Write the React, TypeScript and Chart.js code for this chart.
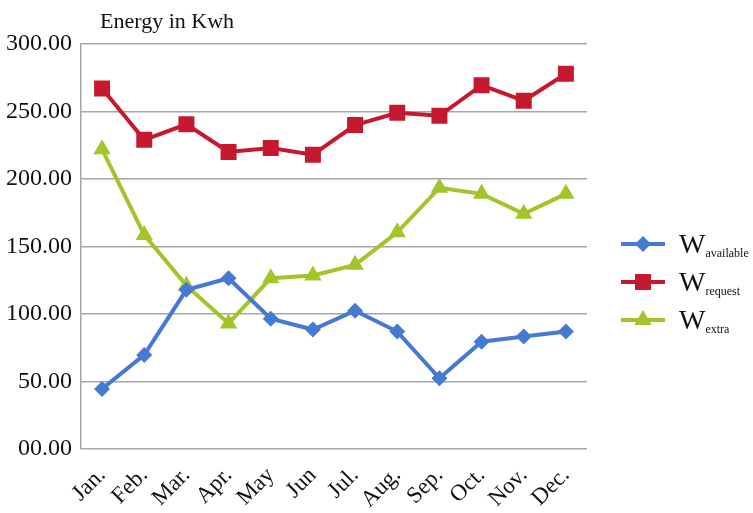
import React, { useEffect, useRef } from "react";
import { Chart, registerables } from "chart.js";

Chart.register(...registerables);

const months = ["Jan.", "Feb.", "Mar.", "Apr.", "May", "Jun", "Jul.", "Aug.", "Sep.", "Oct.", "Nov.", "Dec."];
const available = [44.5, 69.7, 117.9, 126.5, 96.5, 88.5, 102.5, 87, 52.4, 79.5, 83.3, 87];
const request = [267, 229, 240.5, 220, 223, 218, 240, 249, 246.8, 269.5, 258, 278];
const extra = [222, 158.6, 121, 93, 126.5, 128.5, 136.4, 160.5, 193.5, 189, 174.2, 189];
const legendSubs = ["available", "request", "extra"];
const titleText = "Energy in Kwh";

const BLUE = "#4679D2";
const RED = "#C6182F";
const GREEN = "#A3C529";
const GRID = "#A6A6A6";
const FONT = "'Liberation Serif', 'Times New Roman', serif";

function drawMarker(ctx: CanvasRenderingContext2D, style: string, x: number, y: number, color: string) {
  ctx.save();
  ctx.fillStyle = color;
  ctx.beginPath();
  if (style === "rectRot") {
    const r = 8;
    ctx.moveTo(x, y - r);
    ctx.lineTo(x + r, y);
    ctx.lineTo(x, y + r);
    ctx.lineTo(x - r, y);
  } else if (style === "rect") {
    const s = 8;
    ctx.rect(x - s, y - s, 2 * s, 2 * s);
  } else {
    const r = 10;
    ctx.moveTo(x, y - r);
    ctx.lineTo(x + r * 0.866, y + r * 0.5);
    ctx.lineTo(x - r * 0.866, y + r * 0.5);
  }
  ctx.closePath();
  ctx.fill();
  ctx.restore();
}

const decorPlugin = {
  id: "decor",
  afterDraw(chart: any) {
    const ctx: CanvasRenderingContext2D = chart.ctx;
    const area = chart.chartArea;
    ctx.save();
    // title
    ctx.fillStyle = "#111";
    ctx.font = `22px ${FONT}`;
    ctx.textAlign = "left";
    ctx.textBaseline = "alphabetic";
    ctx.fillText(titleText, area.left + 19, 28);
    // legend
    const styles = ["rectRot", "rect", "triangle"];
    const rows = [244, 282, 320];
    chart.data.datasets.forEach((ds: any, i: number) => {
      const y = rows[i];
      ctx.strokeStyle = ds.borderColor;
      ctx.lineWidth = 4;
      ctx.beginPath();
      ctx.moveTo(621, y);
      ctx.lineTo(665, y);
      ctx.stroke();
      drawMarker(ctx, styles[i], 643, y, ds.borderColor);
      ctx.fillStyle = "#111";
      ctx.font = `28px ${FONT}`;
      ctx.fillText("W", 679, y + 9);
      const wW = ctx.measureText("W").width;
      ctx.font = `12px ${FONT}`;
      ctx.fillText(legendSubs[i], 679 + wW, y + 13);
    });
    ctx.restore();
  },
};

export default function App() {
  const ref = useRef<HTMLCanvasElement | null>(null);
  useEffect(() => {
    if (!ref.current) return;
    const mk = (label: string, data: number[], color: string, style: string, r: number) => ({
      label,
      data,
      borderColor: color,
      backgroundColor: color,
      borderWidth: 4,
      pointStyle: style,
      pointRadius: r,
      pointHoverRadius: r,
      pointBorderWidth: 0,
      tension: 0,
    });
    const chart = new Chart(ref.current, {
      type: "line",
      data: {
        labels: months,
        datasets: [
          mk("W available", available, BLUE, "rectRot", 8),
          mk("W request", request, RED, "rect", 11.3),
          mk("W extra", extra, GREEN, "triangle", 10),
        ],
      },
      options: {
        animation: false,
        responsive: false,
        devicePixelRatio: 1,
        layout: { padding: { left: 0, right: 166, top: 44, bottom: 0 } },
        plugins: { legend: { display: false }, title: { display: false }, tooltip: { enabled: false } },
        scales: {
          x: {
            type: "category",
            offset: true,
            grid: { display: false, drawTicks: false },
            border: { display: false },
            ticks: {
              color: "#111",
              font: { family: FONT, size: 23 },
              maxRotation: 45,
              minRotation: 45,
              padding: 13,
              autoSkip: false,
            },
            afterFit(scale: any) {
              scale.height = 64;
            },
          },
          y: {
            min: 0,
            max: 300,
            grid: { color: GRID, lineWidth: 1.5, drawTicks: false },
            border: { display: true, color: GRID, width: 1.5 },
            ticks: {
              stepSize: 50,
              color: "#111",
              font: { family: FONT, size: 24 },
              padding: 9,
              callback: (v: any) => (Number(v) === 0 ? "00.00" : Number(v).toFixed(2)),
            },
            afterFit(scale: any) {
              scale.width = 81;
            },
          },
        },
      },
      plugins: [decorPlugin],
    } as any);
    return () => chart.destroy();
  }, []);
  return (
    <div style={{ position: "absolute", left: 0, top: 0, width: 753, height: 513, background: "#fff" }}>
      <canvas ref={ref} width={753} height={513} style={{ width: 753, height: 513, display: "block" }} />
    </div>
  );
}
